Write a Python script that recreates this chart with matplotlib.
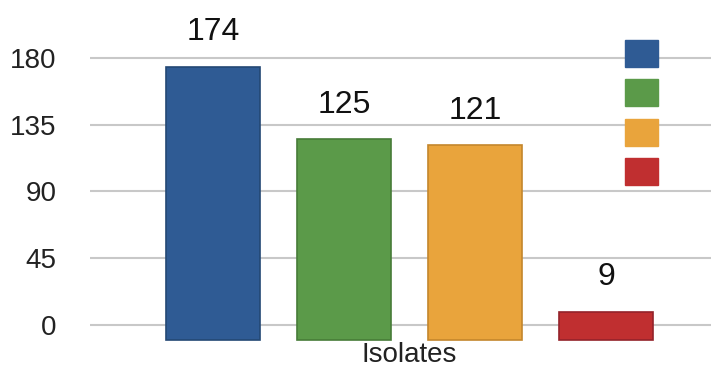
import matplotlib.pyplot as plt
from matplotlib.patches import Patch

plt.rcParams["font.family"] = ["Liberation Sans", "DejaVu Sans"]

categories = ["A", "B", "C", "D"]
values = [174, 125, 121, 9]
colors = ["#2f5b94", "#5b9a49", "#e9a43c", "#c02f30"]
edge_colors = ["#244874", "#477c38", "#c4862c", "#94222a"]
yticks = [0, 45, 90, 135, 180]

fig = plt.figure(figsize=(7.11, 3.67), dpi=100)
ax = fig.add_axes([90 / 711, 0, 1 - 90 / 711, 1])

x = list(range(len(values)))
base = -10  # bars sit slightly below the zero line (perspective look)
ax.bar(x, [v - base for v in values], bottom=base, width=0.72,
       color=colors, edgecolor=edge_colors, linewidth=1.2, zorder=3)

for xi, v in zip(x, values):
    ax.text(xi, v + 13, str(v), ha="center", va="bottom", fontsize=23,
            color="#111111")

ax.set_xlim(-0.94, 3.8)
ax.set_ylim(-28.3, 219)
ax.set_yticks(yticks)
ax.yaxis.grid(True, color="#c8c8c8", linewidth=1.5, zorder=0)
ax.tick_params(axis="y", length=0, labelsize=20, pad=24, labelcolor="#222222")
ax.set_xticks([])
for s in ax.spines.values():
    s.set_visible(False)

ax.text(1.5, -20, "Isolates", ha="center", va="center", fontsize=20,
        color="#222222")

handles = [Patch(facecolor=c, edgecolor=c) for c in colors]
ax.legend(handles, [""] * 4, loc="upper right", bbox_to_anchor=(0.926, 0.91),
          frameon=False, fontsize=10, handlelength=2.4, handleheight=2.6,
          labelspacing=0.9, handletextpad=0, borderpad=0)

fig.savefig("out.png", dpi=100)
